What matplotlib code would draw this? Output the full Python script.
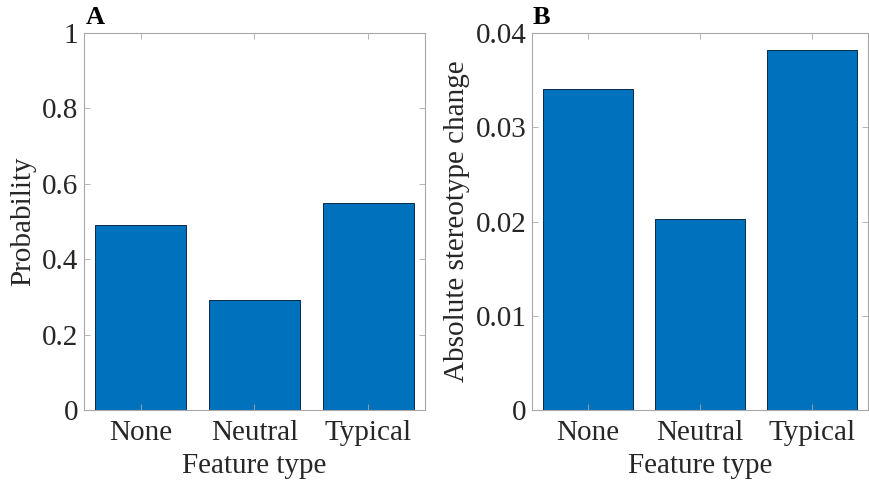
import matplotlib.pyplot as plt
import numpy as np

# data
categories = ['None', 'Neutral', 'Typical']
probability = [0.490, 0.291, 0.549]
stereo_change = [0.0341, 0.0203, 0.0382]

bar_color = '#0072BD'
text_color = '#262626'
spine_color = '#a8a8a8'

plt.rcParams['font.family'] = ['Liberation Serif', 'DejaVu Serif']
plt.rcParams['font.size'] = 21

fig = plt.figure(figsize=(8.69, 4.8), dpi=100)
axA = fig.add_axes([84 / 869, 70 / 480, 341 / 869, 377 / 480])
axB = fig.add_axes([532 / 869, 70 / 480, 336 / 869, 377 / 480])


def style(ax, vals, ymax, yticks, yticklabels, ylabel):
    x = np.arange(1, len(categories) + 1)
    ax.bar(x, vals, width=0.8, color=bar_color, edgecolor='#0b2a45', linewidth=0.7)
    ax.set_xlim(0.5, len(categories) + 0.5)
    ax.set_ylim(0, ymax)
    ax.set_xticks(x)
    ax.set_xticklabels(categories)
    ax.set_yticks(yticks)
    ax.set_yticklabels(yticklabels)
    ax.set_xlabel('Feature type', color=text_color, labelpad=5)
    ax.set_ylabel(ylabel, color=text_color, labelpad=4)
    for s in ax.spines.values():
        s.set_color(spine_color)
        s.set_linewidth(0.8)
    ax.tick_params(direction='in', length=4, width=0.6, color=spine_color,
                   labelcolor=text_color, top=True, right=True)
    ax.tick_params(axis='x', pad=7)
    ax.tick_params(axis='y', pad=4)


style(axA, probability, 1, [0, 0.2, 0.4, 0.6, 0.8, 1],
      ['0', '0.2', '0.4', '0.6', '0.8', '1'], 'Probability')
style(axB, stereo_change, 0.04, [0, 0.01, 0.02, 0.03, 0.04],
      ['0', '0.01', '0.02', '0.03', '0.04'], 'Absolute stereotype change')

fig.text(86 / 869, 1 - 17 / 480, 'A', fontsize=19, fontweight='bold',
         color='black', va='center', ha='left')
fig.text(533 / 869, 1 - 17 / 480, 'B', fontsize=19, fontweight='bold',
         color='black', va='center', ha='left')

fig.savefig('out.png', dpi=100)
